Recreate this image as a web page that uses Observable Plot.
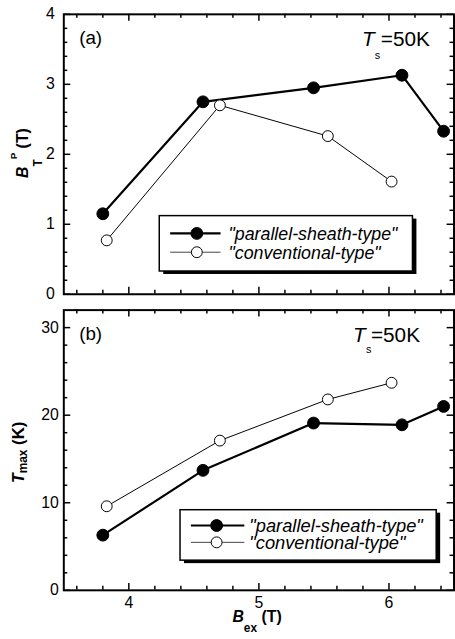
<!DOCTYPE html>
<html><head><meta charset="utf-8">
<script src="https://cdn.jsdelivr.net/npm/d3@7"></script>
<script src="https://cdn.jsdelivr.net/npm/@observablehq/plot@0.6"></script>
<style>
html,body{margin:0;padding:0;background:#fff;overflow:hidden;width:455px;height:639px}
svg{display:block}
</style></head><body><div id="chart"></div>
<script>
// ---- data ----
const bexParallel = [3.80, 4.57, 5.42, 6.10, 6.42];
const bexConventional = [3.83, 4.70, 5.53, 6.02];
const btpParallel = [1.15, 2.75, 2.95, 3.13, 2.33];
const btpConventional = [0.77, 2.70, 2.26, 1.61];
const tmaxParallel = [6.3, 13.7, 19.1, 18.9, 21.0];
const tmaxConventional = [9.6, 17.1, 21.8, 23.7];
const seriesNames = ['"parallel-sheath-type"', '"conventional-type"'];
const xMajor = [4, 5, 6];
const xMinor = [3.6, 3.8, 4.2, 4.4, 4.6, 4.8, 5.2, 5.4, 5.6, 5.8, 6.2, 6.4];
const yMajorA = [0, 1, 2, 3, 4];
const yMinorA = [0.2,0.4,0.6,0.8,1.2,1.4,1.6,1.8,2.2,2.4,2.6,2.8,3.2,3.4,3.6,3.8];
const yMajorB = [0, 10, 20, 30];
const yMinorB = [2,4,6,8,12,14,16,18,22,24,26,28];

const FONT = "'Liberation Sans', Arial, Helvetica, sans-serif";
const W = 460, ML = 64, MR = 1.5;
const IW = W - ML - MR;

function zip(xs, ys) { return xs.map((x, i) => ({x, y: ys[i]})); }

function framedTicks(xMaj, xMin, yMaj, yMin, IH) {
  const s = {stroke: "black", strokeWidth: 1.5};
  return [
    Plot.tickX(xMaj, {x: d => d, insetTop: IH - 7, ...s}),
    Plot.tickX(xMaj, {x: d => d, insetBottom: IH - 7, ...s}),
    Plot.tickX(xMin, {x: d => d, insetTop: IH - 4, ...s}),
    Plot.tickX(xMin, {x: d => d, insetBottom: IH - 4, ...s}),
    Plot.tickY(yMaj, {y: d => d, insetRight: IW - 7, ...s}),
    Plot.tickY(yMaj, {y: d => d, insetLeft: IW - 7, ...s}),
    Plot.tickY(yMin, {y: d => d, insetRight: IW - 4, ...s}),
    Plot.tickY(yMin, {y: d => d, insetLeft: IW - 4, ...s}),
    Plot.frame({stroke: "black", strokeWidth: 2})
  ];
}

function seriesMarks(xp, yp, xc, yc) {
  const P = zip(xp, yp), C = zip(xc, yc);
  return [
    Plot.line(C, {x: "x", y: "y", stroke: "black", strokeWidth: 1}),
    Plot.line(P, {x: "x", y: "y", stroke: "black", strokeWidth: 2.2}),
    Plot.dot(C, {x: "x", y: "y", r: 5.5, fill: "white", stroke: "black", strokeWidth: 1}),
    Plot.dot(P, {x: "x", y: "y", r: 6, fill: "black", stroke: "black", strokeWidth: 1})
  ];
}

function addText(svg, x, y, parts, opts = {}) {
  const t = svg.append("text").attr("x", x).attr("y", y)
    .attr("font-family", FONT).attr("fill", "black")
    .attr("text-anchor", opts.anchor || "start");
  if (opts.rotate) t.attr("transform", `rotate(-90 ${x} ${y})`);
  for (const p of parts) {
    const s = t.append("tspan").text(p.t).attr("font-size", p.size || 16);
    if (p.bold) s.attr("font-weight", "bold");
    if (p.italic) s.attr("font-style", "italic");
    if (p.dy) s.attr("dy", p.dy);
    if (p.dx) s.attr("dx", p.dx);
  }
  return t;
}

function legend(svg, L) {
  const g = svg.append("g");
  g.append("rect").attr("x", L.x0 + 4).attr("y", L.y0 + 3).attr("width", L.x1 - L.x0).attr("height", L.y1 - L.y0).attr("fill", "black");
  g.append("rect").attr("x", L.x0).attr("y", L.y0).attr("width", L.x1 - L.x0).attr("height", L.y1 - L.y0).attr("fill", "white").attr("stroke", "black").attr("stroke-width", 1.5);
  L.rows.forEach((ry, i) => {
    const filled = i === 0;
    g.append("line").attr("x1", L.lx0).attr("x2", L.lx1).attr("y1", ry).attr("y2", ry)
      .attr("stroke", filled ? "black" : "#444").attr("stroke-width", filled ? 2.2 : 1);
    g.append("circle").attr("cx", L.mx).attr("cy", ry).attr("r", filled ? 6 : 5.5)
      .attr("fill", filled ? "black" : "white").attr("stroke", "black").attr("stroke-width", 1);
    g.append("text").attr("x", L.tx).attr("y", ry + 6.5).attr("font-family", FONT)
      .attr("text-anchor", "start")
      .attr("font-size", L.fs).attr("font-style", "italic").text(seriesNames[i]);
  });
}

// ---- top panel ----
const HA = 305, MTA = 14, MBA = 8;
const plotA = Plot.plot({
  width: W, height: HA, marginLeft: ML, marginRight: MR, marginTop: MTA, marginBottom: MBA,
  style: {fontFamily: FONT, fontSize: "16px", color: "black", background: "white", overflow: "visible"},
  x: {domain: [3.5, 6.5], axis: null},
  y: {domain: [0, 4], axis: null},
  marks: [
    Plot.axisY({ticks: yMajorA, tickSize: 0, tickPadding: 9, label: null, fontSize: 16, tickFormat: d => String(d)}),
    ...seriesMarks(bexParallel, btpParallel, bexConventional, btpConventional),
    ...framedTicks(xMajor, xMinor, yMajorA, yMinorA, HA - MTA - MBA)
  ]
});
// ---- bottom panel ----
const HB = 334, MTB = 7.7, MBB = 43;
const plotB = Plot.plot({
  width: W, height: HB, marginLeft: ML, marginRight: MR, marginTop: MTB, marginBottom: MBB,
  style: {fontFamily: FONT, fontSize: "16px", color: "black", background: "white", overflow: "visible"},
  x: {domain: [3.5, 6.5], axis: null},
  y: {domain: [0, 32], axis: null},
  marks: [
    Plot.axisY({ticks: yMajorB, tickSize: 0, tickPadding: 5, label: null, fontSize: 16, tickFormat: d => String(d)}),
    Plot.axisX({ticks: xMajor, tickSize: 0, tickPadding: 6, label: null, fontSize: 16, tickFormat: d => String(d)}),
    ...seriesMarks(bexParallel, tmaxParallel, bexConventional, tmaxConventional),
    ...framedTicks(xMajor, xMinor, yMajorB, yMinorB, HB - MTB - MBB)
  ]
});

const root = document.getElementById("chart");
root.append(plotA, plotB);

// annotations top
const sA = d3.select(plotA);
addText(sA, 80, 45, [{t: "(a)", size: 19}]);
addText(sA, 366, 47, [{t: "T", size: 21, italic: true}]);
addText(sA, 379, 60, [{t: "s", size: 11}]);
addText(sA, 385, 47, [{t: "=50K", size: 21}]);
addText(sA, 28, 180, [
  {t: "B", bold: true, italic: true, size: 16},
  {t: "T", bold: true, size: 12, dy: 14},
  {t: "P", bold: true, size: 10, dy: -25},
  {t: " (T)", bold: true, size: 16, dy: 11}
], {rotate: true});
legend(sA, {x0: 161, y0: 218, x1: 417, y1: 274, rows: [236, 255], lx0: 172, lx1: 223, mx: 199, tx: 231, fs: 18});

// annotations bottom (offset y 305)
const sB = d3.select(plotB);
addText(sB, 80, 38, [{t: "(b)", size: 19}]);
addText(sB, 357, 40, [{t: "T", size: 21, italic: true}]);
addText(sB, 370, 52, [{t: "s", size: 11}]);
addText(sB, 375, 40, [{t: "=50K", size: 21}]);
addText(sB, 24, 183, [
  {t: "T", bold: true, italic: true, size: 16},
  {t: "max", bold: true, size: 12, dy: 3},
  {t: " (K)", bold: true, size: 17, dy: -3}
], {rotate: true});
addText(sB, 235, 324, [
  {t: "B", bold: true, italic: true, size: 16},
  {t: "ex", bold: true, size: 12, dy: 10},
  {t: " (T)", bold: true, size: 16, dy: -10}
]);
legend(sB, {x0: 182, y0: 210, x1: 441, y1: 261, rows: [226, 243], lx0: 193, lx1: 247, mx: 219, tx: 252, fs: 18.5});
</script></body></html>
